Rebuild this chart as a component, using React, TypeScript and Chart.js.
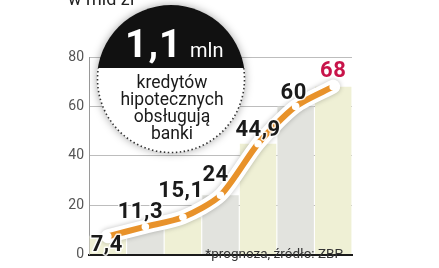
import { useEffect, useRef } from 'react';
import { Chart, registerables } from 'chart.js';

Chart.register(...registerables);

// ---- data ----
const categories = ['1', '2', '3', '4', '5', '6', '7'];
const values = [7.4, 11.3, 15.1, 24, 44.9, 60, 68];
const valueLabels = ['7,4', '11,3', '15,1', '24', '44,9', '60', '68'];
const yMin = 0;
const yMax = 80;
const yStep = 20;
const title = 'w mld zł';
const footnote = '*prognoza, źródło: ZBP';
const calloutBig = '1,1';
const calloutUnit = 'mln';
const calloutLines = ['kredytów', 'hipotecznych', 'obsługują', 'banki'];

// ---- styles ----
const barColors = ['#eff0d5', '#e2e3de', '#eff0d5', '#e2e3de', '#eff0d5', '#e2e3de', '#eff0d5'];
const labelColors = ['#1a1a1a', '#1a1a1a', '#1a1a1a', '#1a1a1a', '#1a1a1a', '#1a1a1a', '#c8144a'];
const labelOffsets: [number, number][] = [
  [-1, 15], [-5, -9], [-2, -20], [-5, -14], [0, -8], [-2, -7], [0, -10],
];
const orange = '#e8922a';
const LINE_INDEX = 1;

const decorPlugin = {
  id: 'decor',
  beforeDatasetDraw(chart: any, args: any) {
    if (args.index !== LINE_INDEX) return;
    const ctx = chart.ctx as CanvasRenderingContext2D;
    const line = chart.getDatasetMeta(LINE_INDEX).dataset;
    line.updateControlPoints(chart.chartArea, 'x');
    // white halo
    ctx.save();
    ctx.setLineDash([]);
    ctx.beginPath();
    line.path(ctx);
    ctx.lineWidth = 14;
    ctx.lineJoin = 'round';
    ctx.lineCap = 'round';
    ctx.strokeStyle = '#ffffff';
    ctx.shadowColor = 'rgba(0,0,0,0.25)';
    ctx.shadowBlur = 5;
    ctx.stroke();
    ctx.restore();
    // orange line
    ctx.save();
    ctx.setLineDash([]);
    ctx.lineDashOffset = 0;
    ctx.beginPath();
    line.path(ctx);
    ctx.lineWidth = 6;
    ctx.lineJoin = 'round';
    ctx.lineCap = 'round';
    ctx.strokeStyle = orange;
    ctx.stroke();
    ctx.restore();
  },
  afterDatasetsDraw(chart: any) {
    const ctx = chart.ctx as CanvasRenderingContext2D;
    const meta = chart.getDatasetMeta(LINE_INDEX);
    ctx.save();
    ctx.font = 'bold 22px Roboto';
    (ctx as any).letterSpacing = '0.5px';
    ctx.textAlign = 'center';
    ctx.textBaseline = 'alphabetic';
    ctx.lineJoin = 'round';
    meta.data.forEach((pt: any, i: number) => {
      const [dx, dy] = labelOffsets[i];
      const x = pt.x + dx;
      const y = pt.y + dy;
      ctx.strokeStyle = 'rgba(255,255,255,0.85)';
      ctx.lineWidth = 3;
      ctx.strokeText(valueLabels[i], x, y);
      ctx.fillStyle = labelColors[i];
      ctx.fillText(valueLabels[i], x, y);
    });
    ctx.restore();
  },
  afterDraw(chart: any) {
    const ctx = chart.ctx as CanvasRenderingContext2D;
    ctx.save();
    ctx.font = '18px Roboto';
    ctx.fillStyle = '#222';
    ctx.textAlign = 'left';
    ctx.textBaseline = 'alphabetic';
    ctx.fillText(title, 68, 5);
    ctx.font = '13.5px Roboto';
    ctx.fillStyle = '#333';
    ctx.textAlign = 'right';
    ctx.fillText(footnote, 343, 258);
    ctx.restore();

    const cx = 171, cy = 79, r = 74, split = 68;
    ctx.save();
    ctx.shadowColor = 'rgba(0,0,0,0.35)';
    ctx.shadowBlur = 9;
    ctx.beginPath();
    ctx.arc(cx, cy, r, 0, Math.PI * 2);
    ctx.fillStyle = '#ffffff';
    ctx.fill();
    ctx.restore();

    ctx.save();
    ctx.beginPath();
    ctx.arc(cx, cy, r, 0, Math.PI * 2);
    ctx.clip();
    ctx.fillStyle = '#111111';
    ctx.fillRect(cx - r - 2, cy - r - 2, 2 * r + 4, split - (cy - r - 2));
    ctx.restore();

    const a = Math.asin((split - cy) / r);
    ctx.save();
    ctx.beginPath();
    ctx.arc(cx, cy, r - 0.5, a, Math.PI - a);
    ctx.setLineDash([1.5, 2.5]);
    ctx.lineWidth = 1.6;
    ctx.strokeStyle = '#333';
    ctx.stroke();
    ctx.setLineDash([]);
    ctx.restore();

    ctx.save();
    ctx.fillStyle = '#ffffff';
    ctx.textBaseline = 'alphabetic';
    ctx.font = 'bold 39px Roboto';
    (ctx as any).letterSpacing = '1px';
    ctx.textAlign = 'left';
    ctx.fillText(calloutBig, 125, 57);
    (ctx as any).letterSpacing = '0px';
    ctx.font = '20px Roboto';
    ctx.fillText(calloutUnit, 190, 57);
    ctx.fillStyle = '#1a1a1a';
    ctx.font = '17.5px Roboto';
    ctx.textAlign = 'center';
    calloutLines.forEach((line, i) => {
      ctx.fillText(line, 172, 88 + i * 17);
    });
    ctx.restore();
  },
};

export default function App() {
  const ref = useRef<HTMLCanvasElement>(null);
  useEffect(() => {
    document.body.style.margin = '0';
    const canvas = ref.current!;
    const chart = new Chart(canvas, {
      type: 'bar',
      data: {
        labels: categories,
        datasets: [
          {
            type: 'bar',
            data: values,
            backgroundColor: barColors,
            barPercentage: 0.97,
            categoryPercentage: 1,
            borderWidth: 0,
            order: 2,
          },
          {
            type: 'line',
            data: values,
            borderColor: orange,
            borderWidth: 6,
            showLine: false,
            pointRadius: 3.8,
            pointBackgroundColor: '#ffffff',
            pointBorderColor: '#ffffff',
            pointBorderWidth: 0,
            tension: 0.25,
            fill: false,
            clip: false,
            order: 1,
          },
        ] as any,
      },
      options: {
        animation: false,
        responsive: false,
        events: [],
        layout: { padding: { top: 57, right: 87, left: 0, bottom: 0 } },
        plugins: { legend: { display: false }, tooltip: { enabled: false } },
        scales: {
          x: {
            type: 'category',
            offset: true,
            grid: { display: false },
            ticks: { display: false },
            border: { display: true, color: '#1a1a1a', width: 2 },
            afterFit: (s: any) => { s.height = 2; },
          },
          y: {
            min: yMin,
            max: yMax,
            ticks: {
              stepSize: yStep,
              color: '#555',
              font: { family: 'Roboto', size: 14 },
              padding: 5,
            },
            grid: { color: '#bdbdbd', lineWidth: 1, drawTicks: false },
            border: { display: true, color: '#9a9a9a', width: 1 },
            afterFit: (s: any) => { s.width = 89; },
          },
        },
      },
      plugins: [decorPlugin],
    });
    return () => chart.destroy();
  }, []);
  return (
    <div style={{ position: 'absolute', left: 0, top: 0, width: 439, height: 268 }}>
      <canvas ref={ref} width={439} height={268} />
    </div>
  );
}
